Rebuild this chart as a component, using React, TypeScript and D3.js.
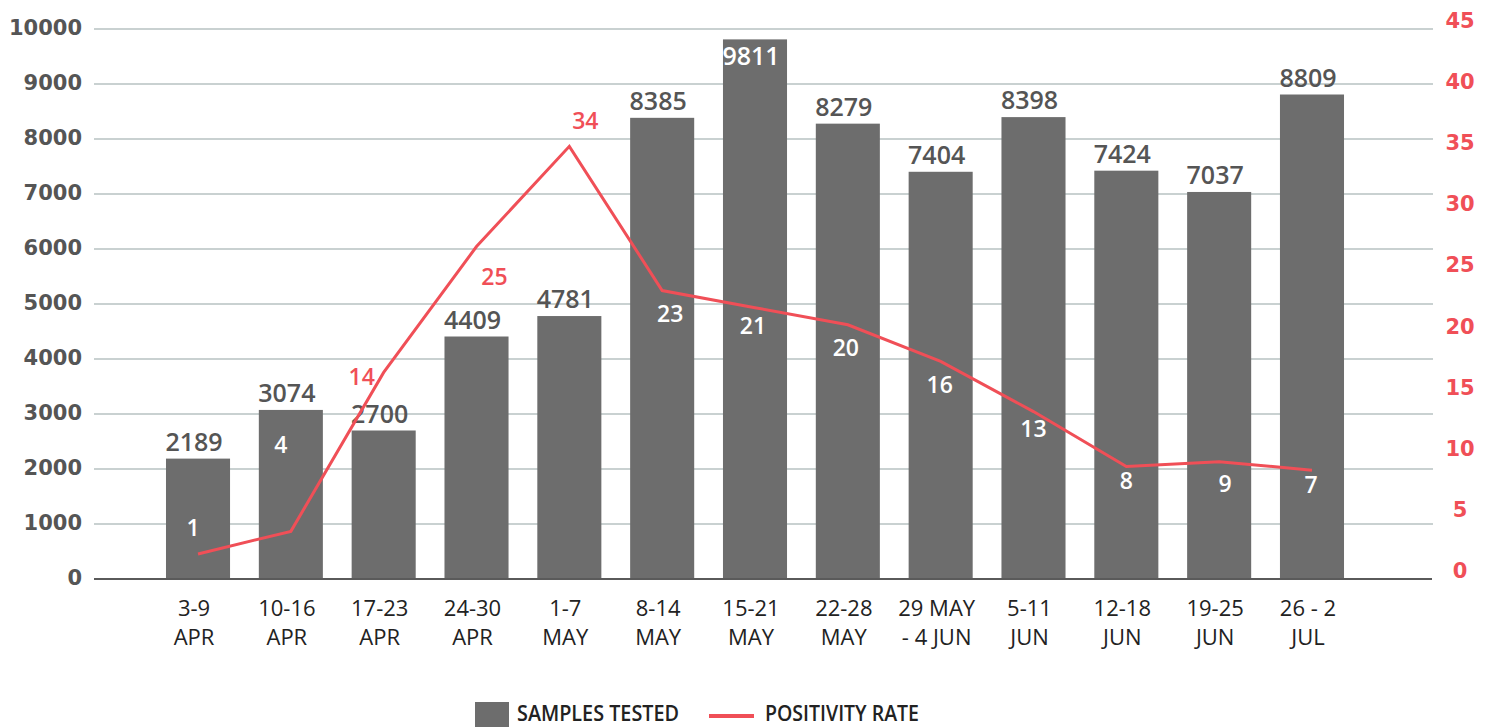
import * as d3 from "d3";
import React, { useEffect, useRef } from "react";

// week ranges, split into the two label lines
const weekTop = ["3-9", "10-16", "17-23", "24-30", "1-7", "8-14", "15-21", "22-28", "29 MAY", "5-11", "12-18", "19-25", "26 - 2"];
const weekBottom = ["APR", "APR", "APR", "APR", "MAY", "MAY", "MAY", "MAY", "- 4 JUN", "JUN", "JUN", "JUN", "JUL"];

// samples tested per week
const samples = [2189, 3074, 2700, 4409, 4781, 8385, 9811, 8279, 7404, 8398, 7424, 7037, 8809];

// positivity rate (%) as plotted, and the labels printed next to it
const positivity = [2.05, 3.9, 16.9, 27.2, 35.4, 23.6, 22.2, 20.8, 17.8, 13.7, 9.2, 9.6, 8.9];
const positivityLabels = ["1", "4", "14", "25", "34", "23", "21", "20", "16", "13", "8", "9", "7"];
// where each positivity label sits, in rate units
const positivityLabelLevel = [4.2, 11, 16.5, 24.7, 37.5, 21.7, 20.7, 18.9, 15.9, 12.3, 8, 7.8, 7.7];

const leftTicks = [0, 1000, 2000, 3000, 4000, 5000, 6000, 7000, 8000, 9000, 10000];
const rightTicks = [0, 5, 10, 15, 20, 25, 30, 35, 40, 45];

const BAR = "#6d6d6d";
const RED = "#f04f57";
const GREY_TEXT = "#555555";

const Chart = () => {
  const svgRef = useRef<SVGSVGElement>(null);

  useEffect(() => {
    const width = 1491;
    const height = 727;
    const left = 94;
    const right = 1433;
    const top = 29;
    const bottom = 579;
    // horizontal nudge of the rate labels, so they clear the line
    const labelNudge = [-5, -10, -22, 18, 16, 8, -2, -2, -1, 0, 0, 6, -1];

    const svg = d3.select(svgRef.current).attr("width", width).attr("height", height);
    svg.selectAll("*").remove();

    const x = d3
      .scaleBand<number>()
      .domain(d3.range(samples.length))
      .range([151.6, 1358.4])
      .paddingInner(0.31)
      .paddingOuter(0.155);
    const cx = (i: number) => (x(i) as number) + x.bandwidth() / 2;

    const yL = d3.scaleLinear().domain([0, 10000]).range([bottom, top]);
    const yR = d3.scaleLinear().domain([0, 45]).range([bottom, top]);

    // grid lines
    svg
      .append("g")
      .selectAll("line")
      .data(leftTicks.filter((t) => t > 0))
      .join("line")
      .attr("x1", left)
      .attr("x2", right)
      .attr("y1", (d) => yL(d))
      .attr("y2", (d) => yL(d))
      .attr("stroke", "#93a3a3")
      .attr("stroke-width", 1);

    // left tick labels
    svg
      .append("g")
      .selectAll("text")
      .data(leftTicks)
      .join("text")
      .attr("x", 82)
      .attr("y", (d) => yL(d) + 6)
      .attr("text-anchor", "end")
      .attr("font-family", "DejaVu Sans")
      .attr("font-weight", "bold")
      .attr("font-size", 21)
      .attr("fill", GREY_TEXT)
      .text((d) => d);

    // right tick labels
    svg
      .append("g")
      .selectAll("text")
      .data(rightTicks)
      .join("text")
      .attr("x", 1460)
      .attr("y", (d) => yR(d) - 1)
      .attr("text-anchor", "middle")
      .attr("font-family", "DejaVu Sans")
      .attr("font-weight", "bold")
      .attr("font-size", 21)
      .attr("fill", RED)
      .text((d) => d);

    // bars
    svg
      .append("g")
      .selectAll("rect")
      .data(samples)
      .join("rect")
      .attr("x", (_, i) => x(i) as number)
      .attr("y", (d) => yL(d))
      .attr("width", x.bandwidth())
      .attr("height", (d) => bottom - yL(d))
      .attr("fill", BAR);

    // baseline
    svg
      .append("line")
      .attr("x1", left)
      .attr("x2", right - 1)
      .attr("y1", bottom)
      .attr("y2", bottom)
      .attr("stroke", "#5a5a5a")
      .attr("stroke-width", 2);

    // bar value labels (white inside the bar when there is no room above)
    const inside = (d: number) => yL(d) - 30 < top;
    svg
      .append("g")
      .selectAll("text")
      .data(samples)
      .join("text")
      .attr("x", (_, i) => cx(i) - 4)
      .attr("y", (d) => (inside(d) ? yL(d) + 26 : yL(d) - 8))
      .attr("text-anchor", "middle")
      .attr("font-family", "Open Sans")
      .attr("font-weight", 600)
      .attr("font-size", 25)
      .attr("fill", (d) => (inside(d) ? "#ffffff" : GREY_TEXT))
      .text((d) => d);

    // positivity line
    const line = d3
      .line<number>()
      .x((_, i) => cx(i))
      .y((d) => yR(d));

    svg
      .append("path")
      .datum(positivity)
      .attr("fill", "none")
      .attr("stroke", RED)
      .attr("stroke-width", 3)
      .attr("stroke-linejoin", "miter")
      .attr("d", line);

    // positivity labels: white inside a bar, red above it
    const above = (i: number) => yR(positivityLabelLevel[i]) < yL(samples[i]);
    svg
      .append("g")
      .selectAll("text")
      .data(positivityLabels)
      .join("text")
      .attr("x", (_, i) => cx(i) + labelNudge[i])
      .attr("y", (_, i) => yR(positivityLabelLevel[i]) + 8)
      .attr("text-anchor", "middle")
      .attr("font-family", "Open Sans")
      .attr("font-weight", 600)
      .attr("font-size", 23)
      .attr("fill", (_, i) => (above(i) ? RED : "#ffffff"))
      .text((d) => d);

    // category labels, two lines
    const cat = svg.append("g");
    cat
      .selectAll("text.top")
      .data(weekTop)
      .join("text")
      .attr("class", "top")
      .attr("x", (_, i) => cx(i) - 4)
      .attr("y", 616)
      .attr("text-anchor", "middle")
      .attr("font-family", "Open Sans")
      .attr("font-size", 22)
      .attr("fill", "#222")
      .text((d) => d);
    cat
      .selectAll("text.bottom")
      .data(weekBottom)
      .join("text")
      .attr("class", "bottom")
      .attr("x", (_, i) => cx(i) - 4)
      .attr("y", 645)
      .attr("text-anchor", "middle")
      .attr("font-family", "Open Sans")
      .attr("font-size", 22)
      .attr("fill", "#222")
      .text((d) => d);

    // legend
    const lg = svg.append("g");
    lg.append("rect").attr("x", 475).attr("y", 702).attr("width", 34).attr("height", 25).attr("fill", BAR);
    lg.append("text")
      .attr("x", 517)
      .attr("y", 721)
      .attr("font-family", "Open Sans")
      .attr("font-weight", 600)
      .attr("font-size", 21)
      .attr("fill", "#222")
      .attr("textLength", 162)
      .attr("lengthAdjust", "spacingAndGlyphs")
      .text("SAMPLES TESTED");
    lg.append("line")
      .attr("x1", 709)
      .attr("x2", 754)
      .attr("y1", 716)
      .attr("y2", 716)
      .attr("stroke", RED)
      .attr("stroke-width", 4);
    lg.append("text")
      .attr("x", 765)
      .attr("y", 721)
      .attr("font-family", "Open Sans")
      .attr("font-weight", 600)
      .attr("font-size", 21)
      .attr("fill", "#222")
      .attr("textLength", 154)
      .attr("lengthAdjust", "spacingAndGlyphs")
      .text("POSITIVITY RATE");
  }, []);

  return (
    <div style={{ position: "absolute", left: 0, top: 0 }}>
      <svg ref={svgRef}></svg>
    </div>
  );
};

export default function App() {
  return <Chart />;
}
